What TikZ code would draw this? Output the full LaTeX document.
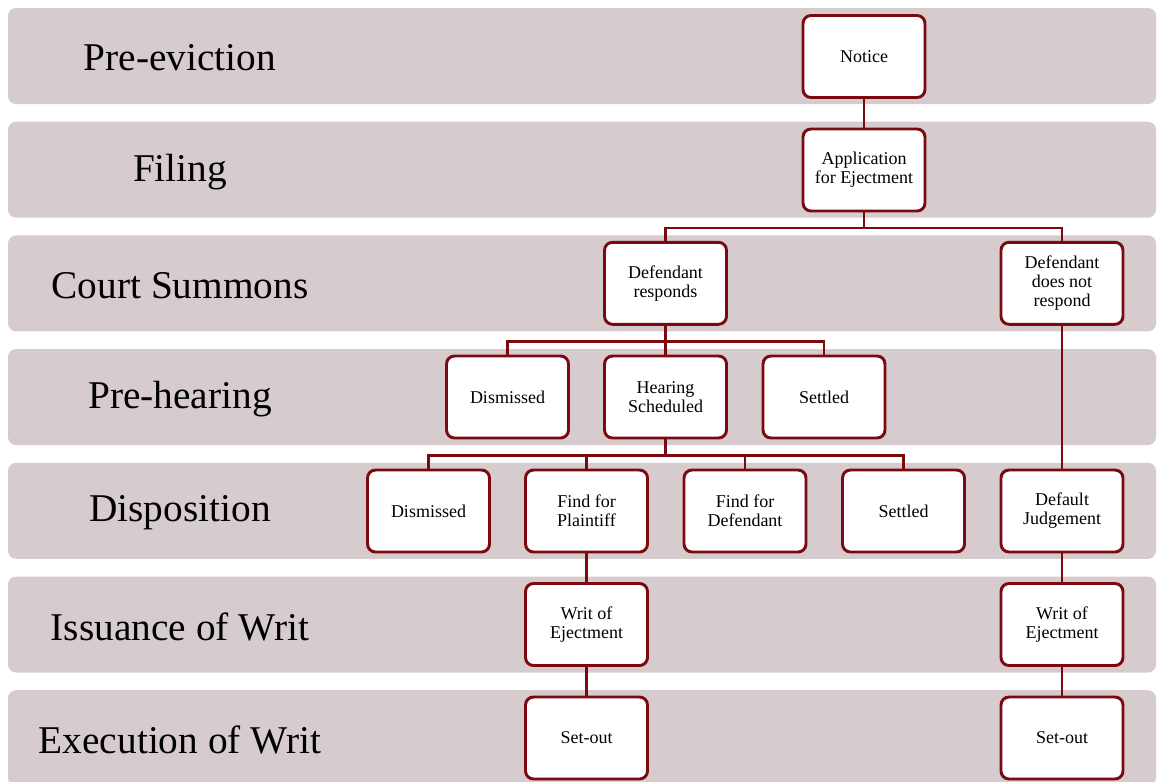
\documentclass[tikz,border=0pt]{standalone}
\usepackage{fontspec}
\setmainfont{Liberation Serif}
\definecolor{bandfill}{RGB}{214,204,205}
\definecolor{wine}{RGB}{122,10,16}
\tikzset{
  band/.style={fill=bandfill, rounded corners=6pt},
  bandlabel/.style={font=\fontsize{29.5}{32}\selectfont, text=black, anchor=center},
  stepbox/.style={draw=wine, line width=2.2pt, fill=white, rounded corners=6pt,
    minimum width=91.5pt, minimum height=61.5pt, align=center, inner sep=1pt,
    font=\fontsize{13.5}{14.3}\selectfont},
  link/.style={draw=wine, line width=2.2pt}
}
\begin{document}
\begin{tikzpicture}[x=0.75pt,y=-0.75pt]
\useasboundingbox (0,0) rectangle (1157,782);
\clip (0,0) rectangle (1157,782);
% bands
\foreach \k in {0,...,6}{
  \fill[band] (8,{8+113.7*\k}) rectangle (1156,{104+113.7*\k});
}
% band labels
\node[bandlabel] (l1) at (180,58) {Pre-eviction};
\node[bandlabel] (l2) at (180,171.7) {Filing};
\node[bandlabel] (l3) at (180,285.4) {Court Summons};
\node[bandlabel] (l4) at (180,399.1) {Pre-hearing};
\node[bandlabel] (l5) at (180,512.8) {Disposition};
\node[bandlabel] (l6) at (180,626.5) {Issuance of Writ};
\node[bandlabel] (l7) at (180,740.2) {Execution of Writ};
% nodes
\node[stepbox] (notice) at (864,56.5) {Notice};
\node[stepbox] (app) at (864,170) {Application\\for Ejectment};
\node[stepbox] (dr) at (665.5,283.3) {Defendant\\responds};
\node[stepbox] (dnr) at (1062,283.3) {Defendant\\does not\\respond};
\node[stepbox] (dis1) at (507.5,397) {Dismissed};
\node[stepbox] (hs) at (665.5,397) {Hearing\\Scheduled};
\node[stepbox] (set1) at (824,397) {Settled};
\node[stepbox] (dis2) at (428.5,511) {Dismissed};
\node[stepbox] (ffp) at (586.5,511) {Find for\\Plaintiff};
\node[stepbox] (ffd) at (745,511) {Find for\\Defendant};
\node[stepbox] (set2) at (903.5,511) {Settled};
\node[stepbox] (dj) at (1062,511) {Default\\Judgement};
\node[stepbox] (w1) at (586.5,624.5) {Writ of\\Ejectment};
\node[stepbox] (w2) at (1062,624.5) {Writ of\\Ejectment};
\node[stepbox] (s1) at (586.5,738) {Set-out};
\node[stepbox] (s2) at (1062,738) {Set-out};
% connectors
\draw[link] (notice.south) -- (app.north);
\draw[link] (app.south) -- ++(0,15.5) -| (dr.north);
\draw[link] (app.south) -- ++(0,15.5) -| (dnr.north);
\draw[link] (dr.south) -- ++(0,16) -| (dis1.north);
\draw[link] (dr.south) -- (hs.north);
\draw[link] (dr.south) -- ++(0,16) -| (set1.north);
\draw[link] (hs.south) -- ++(0,16) -| (dis2.north);
\draw[link] (hs.south) -- ++(0,16) -| (ffp.north);
\draw[link] (hs.south) -- ++(0,16) -| (ffd.north);
\draw[link] (hs.south) -- ++(0,16) -| (set2.north);
\draw[link] (dnr.south) -- (dj.north);
\draw[link] (ffp.south) -- (w1.north);
\draw[link] (w1.south) -- (s1.north);
\draw[link] (dj.south) -- (w2.north);
\draw[link] (w2.south) -- (s2.north);
\end{tikzpicture}
\end{document}
